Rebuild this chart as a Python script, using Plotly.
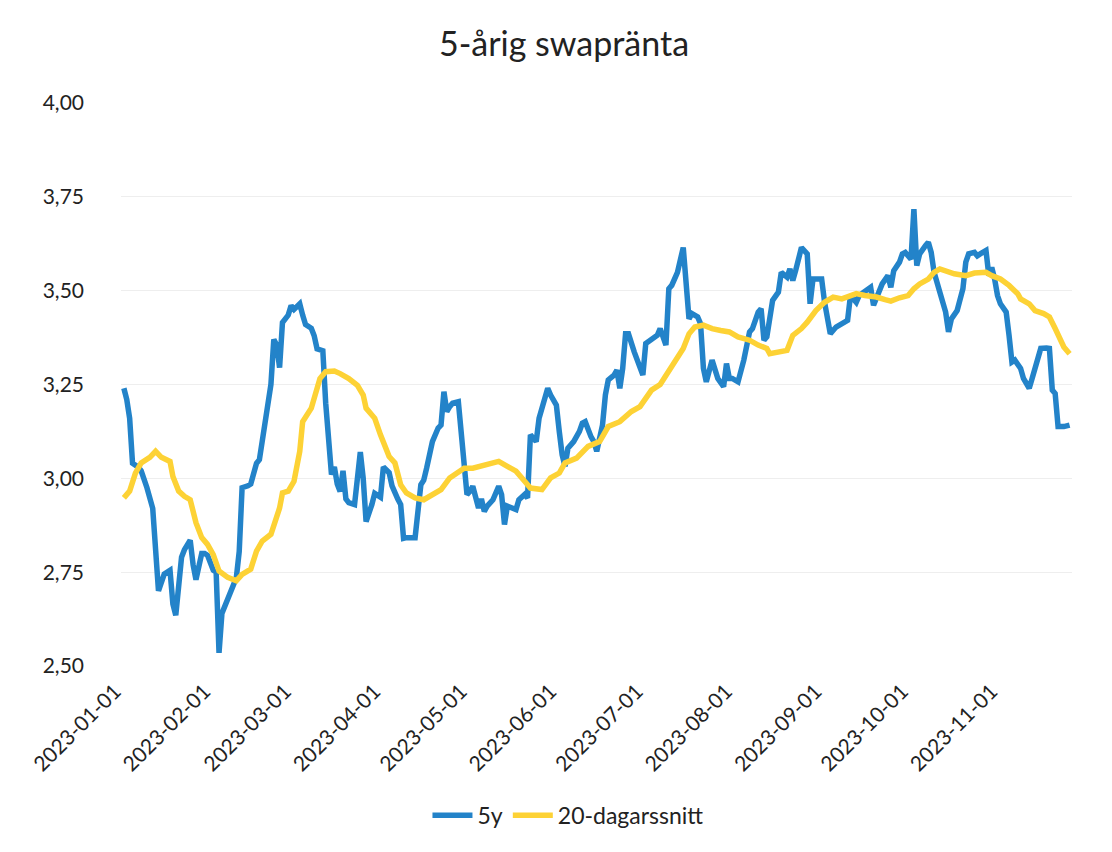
import plotly.graph_objects as go

# 5y swap rate (blue) – dates and values
dates_5y = [
    "2023-01-02","2023-01-03","2023-01-04","2023-01-05","2023-01-07","2023-01-08","2023-01-10","2023-01-12",
    "2023-01-14","2023-01-16","2023-01-18","2023-01-19","2023-01-20","2023-01-22","2023-01-23","2023-01-25",
    "2023-01-26","2023-01-27","2023-01-29","2023-01-30","2023-01-31","2023-02-02","2023-02-03","2023-02-04",
    "2023-02-05","2023-02-07","2023-02-09","2023-02-10","2023-02-11","2023-02-12","2023-02-14","2023-02-15",
    "2023-02-17","2023-02-18","2023-02-19","2023-02-21","2023-02-22","2023-02-23","2023-02-24","2023-02-25",
    "2023-02-26","2023-02-28","2023-03-01","2023-03-02","2023-03-04","2023-03-05","2023-03-06","2023-03-08",
    "2023-03-09","2023-03-10","2023-03-12","2023-03-13","2023-03-14","2023-03-15","2023-03-16","2023-03-17",
    "2023-03-18","2023-03-19","2023-03-20","2023-03-21","2023-03-23","2023-03-25","2023-03-26","2023-03-27",
    "2023-03-29","2023-03-30","2023-04-01","2023-04-02","2023-04-04","2023-04-05","2023-04-07","2023-04-08",
    "2023-04-09","2023-04-10","2023-04-12","2023-04-13","2023-04-15","2023-04-16","2023-04-17","2023-04-19",
    "2023-04-21","2023-04-22","2023-04-23","2023-04-24","2023-04-25","2023-04-26","2023-04-28","2023-04-29",
    "2023-04-30","2023-05-01","2023-05-02","2023-05-03","2023-05-05","2023-05-06","2023-05-07","2023-05-08",
    "2023-05-10","2023-05-12","2023-05-13","2023-05-14","2023-05-15","2023-05-17","2023-05-18","2023-05-19",
    "2023-05-21","2023-05-22","2023-05-23","2023-05-24","2023-05-25","2023-05-26","2023-05-28","2023-05-29",
    "2023-05-30","2023-06-01","2023-06-02","2023-06-03","2023-06-04","2023-06-05","2023-06-07","2023-06-09",
    "2023-06-10","2023-06-11","2023-06-13","2023-06-14","2023-06-15","2023-06-17","2023-06-18","2023-06-19",
    "2023-06-21","2023-06-22","2023-06-23","2023-06-24","2023-06-25","2023-06-26","2023-06-28","2023-06-30",
    "2023-07-01","2023-07-02","2023-07-04","2023-07-06","2023-07-07","2023-07-09","2023-07-10","2023-07-11",
    "2023-07-13","2023-07-14","2023-07-15","2023-07-17","2023-07-18","2023-07-20","2023-07-21","2023-07-22",
    "2023-07-23","2023-07-25","2023-07-26","2023-07-27","2023-07-29","2023-07-30","2023-07-31","2023-08-01",
    "2023-08-03","2023-08-05","2023-08-07","2023-08-08","2023-08-10","2023-08-11","2023-08-12","2023-08-13",
    "2023-08-15","2023-08-16","2023-08-17","2023-08-18","2023-08-20","2023-08-21","2023-08-22","2023-08-23",
    "2023-08-24","2023-08-25","2023-08-27","2023-08-28","2023-08-29","2023-08-31","2023-09-01","2023-09-02",
    "2023-09-04","2023-09-06","2023-09-08","2023-09-10","2023-09-11","2023-09-13","2023-09-14","2023-09-16",
    "2023-09-18","2023-09-19","2023-09-21","2023-09-22","2023-09-24","2023-09-25","2023-09-26","2023-09-28",
    "2023-09-29","2023-09-30","2023-10-02","2023-10-03","2023-10-04","2023-10-05","2023-10-07","2023-10-08",
    "2023-10-09","2023-10-10","2023-10-12","2023-10-14","2023-10-15","2023-10-16","2023-10-18","2023-10-19",
    "2023-10-20","2023-10-21","2023-10-22","2023-10-24","2023-10-25","2023-10-26","2023-10-28","2023-10-29",
    "2023-10-30","2023-10-31","2023-11-01","2023-11-02","2023-11-04","2023-11-05","2023-11-06","2023-11-07",
    "2023-11-09","2023-11-10","2023-11-12","2023-11-13","2023-11-14","2023-11-16","2023-11-18","2023-11-19",
    "2023-11-20","2023-11-21","2023-11-22","2023-11-24","2023-11-26",
]
values_5y = [
    3.24, 3.21, 3.16, 3.04, 3.03, 3.02, 2.975, 2.92,
    2.70, 2.745, 2.755, 2.665, 2.635, 2.79, 2.81, 2.835,
    2.77, 2.73, 2.80, 2.80, 2.795, 2.755, 2.75, 2.535,
    2.64, 2.675, 2.71, 2.735, 2.805, 2.975, 2.98, 2.985,
    3.04, 3.05, 3.10, 3.19, 3.25, 3.37, 3.355, 3.295,
    3.415, 3.435, 3.46, 3.45, 3.465, 3.435, 3.41, 3.40,
    3.38, 3.345, 3.34, 3.20, 3.10, 3.01, 3.03, 2.985,
    2.965, 3.02, 2.945, 2.935, 2.93, 3.07, 3.00, 2.885,
    2.93, 2.96, 2.95, 3.03, 3.015, 2.98, 2.945, 2.93,
    2.84, 2.842, 2.842, 2.842, 2.983, 2.995, 3.027, 3.098,
    3.134, 3.142, 3.231, 3.178, 3.191, 3.20, 3.204, 3.116,
    3.019, 2.957, 2.965, 2.979, 2.921, 2.945, 2.912, 2.926,
    2.943, 2.979, 2.957, 2.877, 2.926, 2.921, 2.917, 2.943,
    2.957, 2.948, 3.116, 3.107, 3.098, 3.16, 3.213, 3.24,
    3.222, 3.195, 3.125, 3.063, 3.032, 3.08, 3.098, 3.125,
    3.147, 3.151, 3.111, 3.098, 3.072, 3.142, 3.222, 3.262,
    3.275, 3.288, 3.24, 3.293, 3.385, 3.385, 3.337, 3.293,
    3.275, 3.359, 3.372, 3.381, 3.399, 3.355, 3.505, 3.514,
    3.549, 3.584, 3.615, 3.425, 3.439, 3.43, 3.412, 3.293,
    3.257, 3.315, 3.293, 3.266, 3.244, 3.306, 3.266, 3.266,
    3.257, 3.315, 3.39, 3.399, 3.443, 3.452, 3.368, 3.377,
    3.474, 3.483, 3.496, 3.549, 3.536, 3.558, 3.527, 3.554,
    3.584, 3.615, 3.598, 3.465, 3.531, 3.531, 3.531, 3.47,
    3.385, 3.403, 3.412, 3.421, 3.487, 3.469, 3.487, 3.496,
    3.509, 3.461, 3.496, 3.518, 3.54, 3.509, 3.553, 3.576,
    3.598, 3.602, 3.584, 3.717, 3.567, 3.598, 3.62, 3.629,
    3.602, 3.549, 3.496, 3.443, 3.39, 3.425, 3.447, 3.478,
    3.505, 3.576, 3.598, 3.602, 3.593, 3.598, 3.607, 3.54,
    3.562, 3.531, 3.487, 3.465, 3.443, 3.381, 3.31, 3.315,
    3.293, 3.266, 3.24, 3.266, 3.293, 3.346, 3.347, 3.346,
    3.235, 3.226, 3.138, 3.138, 3.142,
]

# 20-day moving average (yellow)
dates_ma = [
    "2023-01-02","2023-01-04","2023-01-06","2023-01-08","2023-01-11","2023-01-13","2023-01-15","2023-01-18",
    "2023-01-19","2023-01-21","2023-01-23","2023-01-25","2023-01-27","2023-01-29","2023-01-31","2023-02-02",
    "2023-02-04","2023-02-07","2023-02-10","2023-02-12","2023-02-15","2023-02-17","2023-02-19","2023-02-22",
    "2023-02-25","2023-02-26","2023-02-28","2023-03-02","2023-03-04","2023-03-05","2023-03-08","2023-03-09",
    "2023-03-11","2023-03-13","2023-03-16","2023-03-18","2023-03-21","2023-03-24","2023-03-26","2023-03-27",
    "2023-03-30","2023-04-01","2023-04-03","2023-04-04","2023-04-06","2023-04-08","2023-04-10","2023-04-13",
    "2023-04-16","2023-04-19","2023-04-22","2023-04-25","2023-04-27","2023-04-30","2023-05-03","2023-05-06",
    "2023-05-08","2023-05-12","2023-05-15","2023-05-18","2023-05-21","2023-05-23","2023-05-27","2023-05-30",
    "2023-06-02","2023-06-04","2023-06-08","2023-06-12","2023-06-16","2023-06-19","2023-06-23","2023-06-27",
    "2023-06-30","2023-07-04","2023-07-07","2023-07-10","2023-07-13","2023-07-15","2023-07-17","2023-07-19",
    "2023-07-22","2023-07-25","2023-07-28","2023-07-31","2023-08-03","2023-08-07","2023-08-10","2023-08-13",
    "2023-08-14","2023-08-17","2023-08-20","2023-08-22","2023-08-25","2023-08-27","2023-08-30","2023-09-02",
    "2023-09-05","2023-09-08","2023-09-13","2023-09-16","2023-09-20","2023-09-23","2023-09-25","2023-09-28",
    "2023-10-01","2023-10-03","2023-10-05","2023-10-08","2023-10-10","2023-10-12","2023-10-14","2023-10-17",
    "2023-10-21","2023-10-24","2023-10-28","2023-10-30","2023-11-02","2023-11-05","2023-11-08","2023-11-09",
    "2023-11-12","2023-11-14","2023-11-17","2023-11-19","2023-11-21","2023-11-23","2023-11-24","2023-11-26",
]
values_ma = [
    2.948, 2.966, 3.014, 3.041, 3.056, 3.072, 3.056, 3.045,
    3.005, 2.966, 2.952, 2.943, 2.882, 2.842, 2.824, 2.797,
    2.753, 2.736, 2.727, 2.744, 2.758, 2.806, 2.833, 2.851,
    2.921, 2.961, 2.966, 2.992, 3.072, 3.151, 3.187, 3.213,
    3.266, 3.284, 3.286, 3.279, 3.266, 3.248, 3.222, 3.187,
    3.16, 3.116, 3.072, 3.058, 3.041, 2.983, 2.961, 2.948,
    2.943, 2.957, 2.97, 3.001, 3.01, 3.027, 3.027, 3.032,
    3.036, 3.045, 3.032, 3.019, 2.992, 2.974, 2.97, 3.001,
    3.014, 3.041, 3.054, 3.085, 3.098, 3.138, 3.151, 3.178,
    3.191, 3.235, 3.25, 3.284, 3.324, 3.346, 3.385, 3.403,
    3.408, 3.399, 3.394, 3.39, 3.377, 3.368, 3.355, 3.346,
    3.332, 3.337, 3.341, 3.381, 3.399, 3.416, 3.447, 3.469,
    3.483, 3.478, 3.492, 3.487, 3.483, 3.476, 3.472, 3.481,
    3.487, 3.505, 3.518, 3.531, 3.549, 3.558, 3.553, 3.545,
    3.54, 3.547, 3.549, 3.54, 3.531, 3.514, 3.492, 3.478,
    3.465, 3.447, 3.439, 3.43, 3.399, 3.368, 3.35, 3.332,
]

y_ticks = [2.50, 2.75, 3.00, 3.25, 3.50, 3.75, 4.00]

FONT = "Lato"
BLUE = "#2383C9"
YELLOW = "#FDD235"

fig = go.Figure()
fig.add_trace(go.Scatter(x=dates_5y, y=values_5y, mode="lines", name="5y",
                         line=dict(color=BLUE, width=5.5)))
fig.add_trace(go.Scatter(x=dates_ma, y=values_ma, mode="lines", name="20-dagarssnitt",
                         line=dict(color=YELLOW, width=5.5)))

fig.update_layout(
    width=1112, height=852,
    paper_bgcolor="white", plot_bgcolor="white",
    separators=", ",
    font=dict(family=FONT, size=21, color="#222222"),
    title=dict(text="5-årig swapränta", x=0.5, xanchor="center", y=0.958, yanchor="middle",
               font=dict(family=FONT, size=34, color="#222222")),
    margin=dict(l=113, r=48, t=95, b=194, autoexpand=False),
    showlegend=True,
    legend=dict(orientation="h", x=0.47, xanchor="center", y=-0.265, yanchor="middle",
                font=dict(size=23), bgcolor="rgba(0,0,0,0)", itemwidth=40),
)
fig.update_xaxes(
    type="date",
    range=["2023-01-01", "2023-11-26 20:00"],
    tick0="2023-01-01", dtick="M1", tickformat="%Y-%m-%d",
    tickangle=-45, showgrid=False, zeroline=False, showline=False,
    ticks="", tickfont=dict(size=21), automargin=False,
    ticklabelstandoff=8, ticklabelshift=-6,
)
fig.update_yaxes(
    range=[2.5, 4.0], tickvals=y_ticks, tickformat=".2f",
    showgrid=True, gridcolor="#EEEEEE", gridwidth=1, zeroline=False, showline=False,
    ticks="", ticklabelstandoff=36, tickfont=dict(size=21), automargin=False,
)

fig.write_html("out.html")
